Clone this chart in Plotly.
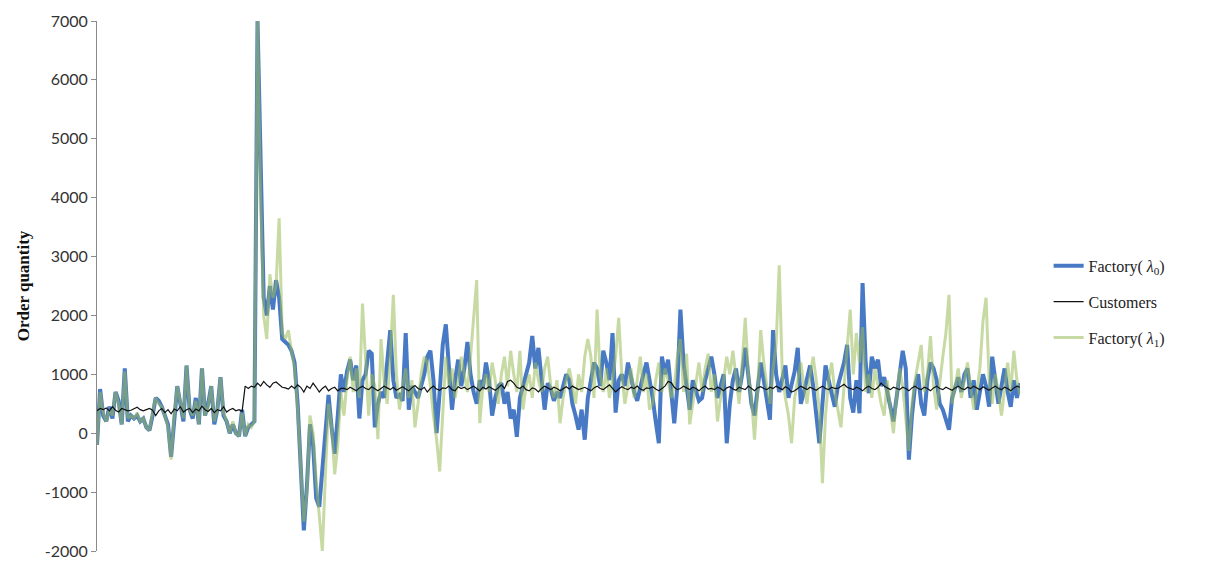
import plotly.graph_objects as go

# Order quantities per period for the two factory settings and the customer demand
factory_l0 = [
    -200, 750, 300, 200, 450, 250, 700, 550, 150, 1100,
    200, 300, 250, 300, 200, 250, 100, 50, 300, 600,
    550, 450, 300, 150, -400, 250, 800, 500, 200, 1150,
    400, 250, 600, 150, 1100, 300, 500, 800, 150, 400,
    950, 300, 200, 0, 150, 0, -50, 400, -50, 100,
    150, 200, 7000, 4200, 2300, 2000, 2500, 2100, 2600, 2300,
    1600, 1550, 1500, 1400, 1200, 500, -700, -1650, -900, 150,
    -200, -1100, -1250, -600, 200, 650, 100, -350, 300, 1000,
    700, 1050, 1250, 900, 1150, 250, 900, 1000, 1400, 1350,
    100, 500, 700, 600, 1200, 1750, 900, 600, 650, 550,
    1700, 400, 800, 700, 600, 800, 1000, 1300, 1400, 900,
    0, 700, 1500, 1850, 1000, 400, 900, 1250, 800, 1100,
    1550, 1000, 700, 500, 900, 750, 1200, 900, 300, 600,
    800, 850, 500, 700, 250, 400, -60, 600, 800, 1000,
    1200, 1650, 1100, 1450, 900, 400, 850, 750, 550, 700,
    600, 800, 1000, 900, 500, 300, 60, 400, -110, 600,
    900, 1200, 1100, 800, 1400, 1200, 900, 1700, 350, 900,
    1000, 800, 1200, 950, 700, 550, 800, 1000, 1200, 900,
    600, 200, -170, 1300, 1000, 1250, 700, 170, 800, 2100,
    1200, 800, 400, 900, 700, 550, 600, 900, 1100, 1300,
    1000, 600, 800, 1000, -170, 500, 900, 1100, 700, 1000,
    1450, 900, 500, 300, 800, 1200, 900, 600, 230, 1750,
    1000, 700, 900, 1150, 600, 800, 1050, 1450, 500, 700,
    900, 1150, 800, 300, -170, 500, 1150, 900, 700, 450,
    800, 1000, 1200, 1500, 600, 350, 900, 340, 2550, 1200,
    680, 1300, 1100, 1250, 800, 950, 700, 400, 200, 600,
    1000, 1400, 1100, -450, 300, 800, 1000, 500, 300, 900,
    1200, 1100, 900, 500, 400, 200, 60, 600, 800, 950,
    700, 1000, 1100, 600, 900, 400, 700, 1000, 800, 450,
    1300, 900, 500, 800, 1100, 700, 450, 900, 600, 850,
]

customers = [
    380, 420, 400, 430, 380, 450, 390, 360, 420, 400,
    380, 390, 410, 440, 400, 380, 400, 420, 390, 300,
    380, 420, 350, 400, 330, 410, 380, 450, 360, 400,
    420, 350, 410, 380, 460, 400, 370, 420, 350, 400,
    380, 450, 360, 400, 420, 380, 400, 370, 800, 760,
    800, 780, 850, 800, 880, 820, 780, 850, 870, 830,
    780, 770, 750, 800, 760, 820, 780, 700, 800, 760,
    850, 780, 700, 760, 800, 720, 760, 780, 720, 760,
    760, 740, 780, 750, 720, 770, 800, 760, 740, 790,
    750, 720, 760, 800, 770, 740, 780, 730, 760, 790,
    750, 720, 770, 810, 760, 740, 780, 700, 760, 800,
    750, 730, 770, 760, 800, 740, 720, 790, 760, 780,
    740, 770, 800, 760, 720, 780, 750, 790, 760, 730,
    770, 820, 760, 880, 900, 850, 780, 760, 800, 740,
    720, 770, 750, 700, 760, 800, 770, 740, 780, 760,
    720, 760, 790, 750, 800, 770, 740, 760, 780, 750,
    720, 770, 800, 760, 740, 780, 820, 760, 700, 750,
    790, 760, 740, 780, 760, 800, 750, 730, 770, 760,
    790, 750, 720, 760, 800, 880, 860, 780, 740, 760,
    800, 770, 740, 780, 760, 720, 770, 800, 750, 760,
    740, 780, 760, 720, 770, 790, 750, 730, 780, 760,
    740, 800, 760, 720, 770, 790, 760, 740, 780, 760,
    800, 770, 740, 790, 760, 700, 720, 760, 800, 770,
    740, 780, 760, 730, 770, 800, 760, 740, 780, 760,
    760, 800, 830, 780, 760, 740, 780, 760, 720, 770,
    800, 760, 740, 780, 850, 800, 770, 740, 780, 760,
    740, 780, 760, 720, 770, 800, 760, 740, 780, 760,
    720, 770, 800, 760, 740, 780, 760, 730, 770, 800,
    760, 740, 780, 760, 800, 770, 740, 790, 760, 730,
    770, 800, 760, 740, 780, 760, 720, 770, 800, 780,
]

factory_l1 = [
    -200, 700, 350, 200, 400, 300, 700, 500, 150, 1050,
    250, 300, 250, 350, 200, 250, 100, 50, 350, 600,
    500, 450, 300, 100, -450, 300, 800, 500, 250, 1150,
    400, 300, 550, 150, 1100, 300, 450, 800, 200, 400,
    950, 350, 200, 0, 200, 0, -50, 350, -50, 150,
    100, 200, 7000, 4000, 2000, 1600, 2700, 2300, 2500, 3650,
    1700, 1600, 1750, 1400, 1100, 400, -500, -1500, -1000, 300,
    0, -800, -1400, -2000, -700, 500, 100, -700, -200, 700,
    300, 900, 1300, 700, 1100, 600, 2200, 1200, 300, 1000,
    800, -100, 1600, 900, 500, 1300, 2350, 1000, 400, 800,
    1100, 600, 900, 100, 500, 1000, 1300, 1200, 800, 300,
    -100, -650, 400, 1300, 800, 1100, 600, 900, 1300, 1000,
    700, 1300, 2000, 2600, 170, 800, 1000, 700, 1200, 900,
    500, 1000, 1300, 800, 1400, 1000, 700, 1400, 400, 800,
    1000, 600, 1200, 900, 700, 1100, 1300, 800, 600, 900,
    170, 600, 900, 1100, 800, 500, 1000, 700, 1300, 1600,
    1300, 600, 2100, 1000, 700, 1100, 600, 900, 1300, 1960,
    1000, 500, 800, 1100, 600, 900, 1300, 700, 1000, 400,
    500, 900, 1200, 700, 1100, 900, 600, 800, 1300, 1600,
    700, 1350, 150, 500, 900, 1200, 700, 1100, 1350, 700,
    1000, 200, 600, 900, 1300, 1000, 1400, 900, 500, 1200,
    1960, 1000, 600, -110, 700, 1750, 1200, 800, 500, 1100,
    1500, 2850, 1000, 600, 300, -170, 600, 900, 1200, 800,
    500, 1000, 1300, 900, 400, -850, 300, 900, 1200, 700,
    400, 100, 800, 1400, 2100, 1000, 1700, 1200, 1800, 700,
    1000, 600, 1100, 800, 500, 300, 900, 400, 0, 600,
    1100, 800, 300, -300, 500, 900, 1200, 1500, 700, 1000,
    1650, 800, 400, 900, 1300, 1700, 2350, 500, 800, 1100,
    600, 900, 1200, 800, 400, 700, 1100, 1900, 2300, 900,
    500, 1000, 700, 300, 800, 1200, 700, 1400, 900, 650,
]

periods = list(range(len(factory_l0)))
y_ticks = [-2000, -1000, 0, 1000, 2000, 3000, 4000, 5000, 6000, 7000]
y_tick_labels = ["-2000", "-1000", "0", "1000", "2000", "3000", "4000", "5000", "6000", "7000"]

fig = go.Figure()
fig.add_trace(go.Scatter(
    x=periods, y=factory_l0, mode="lines",
    name="Factory( <i>λ</i><sub>0</sub>)",
    line=dict(color="#4779c4", width=4),
    legendgroup="a", legendrank=1,
))
fig.add_trace(go.Scatter(
    x=periods, y=factory_l1, mode="lines",
    name="Factory( <i>λ</i><sub>1</sub>)",
    line=dict(color="rgba(155,187,89,0.55)", width=3),
    legendgroup="c", legendrank=3,
))
fig.add_trace(go.Scatter(
    x=periods, y=customers, mode="lines",
    name="Customers",
    line=dict(color="#111111", width=1.2),
    legendgroup="b", legendrank=2,
))

fig.update_layout(
    width=1210, height=561,
    margin=dict(l=97, r=190, t=21, b=10),
    paper_bgcolor="white", plot_bgcolor="white",
    showlegend=True,
    legend=dict(
        x=1.031, y=0.47, xanchor="left", yanchor="middle",
        font=dict(family="Liberation Serif", size=16, color="#222222"),
        tracegroupgap=12, traceorder="grouped",
        bgcolor="rgba(0,0,0,0)",
    ),
    xaxis=dict(
        range=[0, len(periods) - 1],
        showgrid=False, zeroline=False, showline=False,
        showticklabels=False, ticks="",
    ),
    yaxis=dict(
        range=[-2000, 7000],
        tickvals=y_ticks, ticktext=y_tick_labels,
        automargin=False,
        showgrid=False, zeroline=False,
        showline=True, linecolor="#8a8a8a", linewidth=1,
        ticks="outside", ticklen=5, tickcolor="#8a8a8a",
        tickfont=dict(family="Lato", size=16, color="#333333"),
        title=dict(
            text="<b>Order quantity</b>",
            font=dict(family="Liberation Serif", size=17, color="#111111"),
            standoff=10,
        ),
    ),
)

fig.write_html("out.html")
